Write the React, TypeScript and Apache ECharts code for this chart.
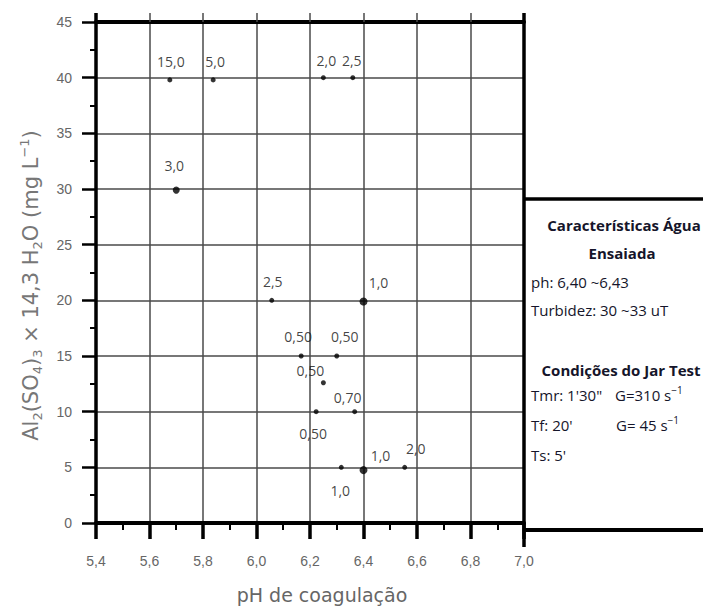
import React, { useEffect, useRef } from 'react';
import * as echarts from 'echarts';

// pH de coagulação (x) and Al2(SO4)3 dose in mg/L (y), with residual turbidity labels
const phValues = [5.676, 5.838, 6.25, 6.36, 5.70, 6.057, 6.40, 6.167, 6.30, 6.25, 6.223, 6.367, 6.317, 6.40, 6.554];
const doseValues = [39.8, 39.8, 40, 40, 29.9, 20, 19.9, 15, 15, 12.6, 10, 10, 5, 4.75, 5];
const turbidityLabels = ['15,0', '5,0', '2,0', '2,5', '3,0', '2,5', '1,0', '0,50', '0,50', '0,50', '0,50', '0,70', '1,0', '1,0', '2,0'];

// styling (not data)
const markerSizes = [5, 5, 5, 5, 7, 5, 8, 5, 5, 5, 5, 5, 5, 8, 5];
const labelOffsets = [[1, -18], [2, -18], [3, -17], [-1, -17], [-2, -25], [1, -19], [15, -19], [-3, -20], [8, -20], [-13, -12], [-3, 22], [-7, -14], [-1, 23], [17, -15], [11, -19]];

const X_MIN = 5.4, X_MAX = 7.0, X_STEP = 0.2;
const Y_MIN = 0, Y_MAX = 45, Y_STEP = 5;

const GL = 96, GT = 22, GR = 524, GB = 530, W = 703;

const TXT = '#15152a';
const BOXFONT = '"Open Sans", "Noto Sans", sans-serif';

function boxText(x: number, y: number, text: string, bold: boolean, align: string) {
  return {
    type: 'text', x, y, z: 10,
    style: {
      text, fill: TXT, font: `${bold ? 'bold ' : ''}15px ${BOXFONT}`,
      textAlign: align, textVerticalAlign: 'middle',
    },
  };
}

function gText(x: number, y: number, base: string) {
  return {
    type: 'text', x, y, z: 10,
    style: {
      text: `{n|${base}}{s|−1}`,
      fill: TXT, textAlign: 'left', textVerticalAlign: 'middle',
      rich: {
        n: { fontFamily: BOXFONT, fontSize: 15, color: TXT, lineHeight: 20 },
        s: { fontFamily: BOXFONT, fontSize: 10, color: TXT, lineHeight: 12, verticalAlign: 'top' },
      },
    },
  };
}

function vline(x: number, y1: number, y2: number, w: number) {
  return { type: 'line', z: 10, shape: { x1: x, y1, x2: x, y2 }, style: { stroke: '#000', lineWidth: w } };
}
function hline(y: number, x1: number, x2: number, w: number) {
  return { type: 'line', z: 10, shape: { x1, y1: y, x2, y2: y }, style: { stroke: '#000', lineWidth: w } };
}

const fmt = (v: number) => v.toFixed(1).replace('.', ',');

export default function App() {
  const ref = useRef<HTMLDivElement>(null);
  useEffect(() => {
    const chart = echarts.init(ref.current!, undefined, { renderer: 'svg' });
    const data = phValues.map((x, i) => ({
      value: [x, doseValues[i]],
      symbolSize: markerSizes[i],
      label: { formatter: turbidityLabels[i], offset: labelOffsets[i], color: '#111' },
    }));
    const axisLabelStyle = { fontFamily: '"Liberation Sans", Arial, sans-serif', fontSize: 14, color: '#666' };
    chart.setOption({
      animation: false,
      backgroundColor: '#fff',
      grid: { left: GL, top: GT, right: W - GR, bottom: 609 - GB, containLabel: false },
      xAxis: [
        {
          type: 'value', min: X_MIN, max: X_MAX, interval: X_STEP, position: 'bottom',
          name: 'pH de coagulação', nameLocation: 'middle', nameGap: 62,
          nameTextStyle: { fontFamily: '"DejaVu Sans", sans-serif', fontSize: 19, color: '#666', padding: [0, 0, 0, 24] },
          axisLine: { show: true, lineStyle: { color: '#000', width: 4 } },
          axisTick: { show: true, inside: false, length: 16, lineStyle: { color: '#000', width: 3.5 } },
          minorTick: { show: true, splitNumber: 2, length: 7, lineStyle: { color: '#000', width: 2 } },
          axisLabel: { ...axisLabelStyle, margin: 31, formatter: fmt },
          splitLine: { show: true, lineStyle: { color: '#4a4a4a', width: 1.5 } },
        },
        {
          type: 'value', min: X_MIN, max: X_MAX, interval: X_STEP, position: 'top',
          axisLine: { show: true, lineStyle: { color: '#000', width: 4 } },
          axisTick: { show: true, inside: false, length: 9, lineStyle: { color: '#4a4a4a', width: 1.5 } },
          axisLabel: { show: false },
          splitLine: { show: false },
        },
      ],
      yAxis: {
        type: 'value', min: Y_MIN, max: Y_MAX, interval: Y_STEP,
        name: '{t|Al}{sub|2}{t|(SO}{sub|4}{t|)}{sub|3}{t| × 14,3 H}{sub|2}{t|O (mg L}{sup|−1}{t|)}',
        nameLocation: 'middle', nameRotate: 90, nameGap: 52,
        nameTextStyle: {
          padding: [0, 26, 0, 0],
          rich: {
            t: { fontFamily: '"DejaVu Sans", sans-serif', fontSize: 21, color: '#777', lineHeight: 26 },
            sub: { fontFamily: '"DejaVu Sans", sans-serif', fontSize: 13, color: '#777', lineHeight: 12, verticalAlign: 'bottom' },
            sup: { fontFamily: '"DejaVu Sans", sans-serif', fontSize: 13, color: '#777', lineHeight: 12, verticalAlign: 'top' },
          },
        },
        axisLine: { show: true, lineStyle: { color: '#000', width: 3.5 } },
        axisTick: { show: true, inside: false, length: 14, lineStyle: { color: '#000', width: 2.5 } },
        minorTick: { show: true, splitNumber: 2, length: 6, lineStyle: { color: '#000', width: 2 } },
        axisLabel: { ...axisLabelStyle, margin: 24 },
        splitLine: { show: true, lineStyle: { color: '#4a4a4a', width: 1.5 } },
      },
      series: [
        {
          type: 'scatter', xAxisIndex: 0, data,
          symbol: 'circle', itemStyle: { color: '#000' },
          label: {
            show: true, position: 'inside',
            fontFamily: BOXFONT, fontSize: 14, color: '#111', textBorderWidth: 0,
          },
          z: 5,
        },
      ],
      graphic: [
        vline(GR, 13, 547, 3.5),
        vline(GL, 13, GT, 3.5),
        hline(199, GR, W, 3.5),
        hline(GB, GR, W, 4),
        boxText(624, 225, 'Características Água', true, 'center'),
        boxText(622, 253, 'Ensaiada', true, 'center'),
        boxText(531, 282, 'ph: 6,40 ~6,43', false, 'left'),
        boxText(531, 310, 'Turbidez: 30 ~33 uT', false, 'left'),
        boxText(621, 370, 'Condições do Jar Test', true, 'center'),
        boxText(531, 395, 'Tmr: 1\'30"', false, 'left'),
        gText(615, 395, 'G=310 s'),
        boxText(531, 425, "Tf: 20'", false, 'left'),
        gText(616, 425, 'G= 45 s'),
        boxText(531, 455, "Ts: 5'", false, 'left'),
      ],
    });
    return () => chart.dispose();
  }, []);
  return <div ref={ref} style={{ position: 'fixed', left: 0, top: 0, width: 703, height: 609, background: '#fff' }} />;
}
